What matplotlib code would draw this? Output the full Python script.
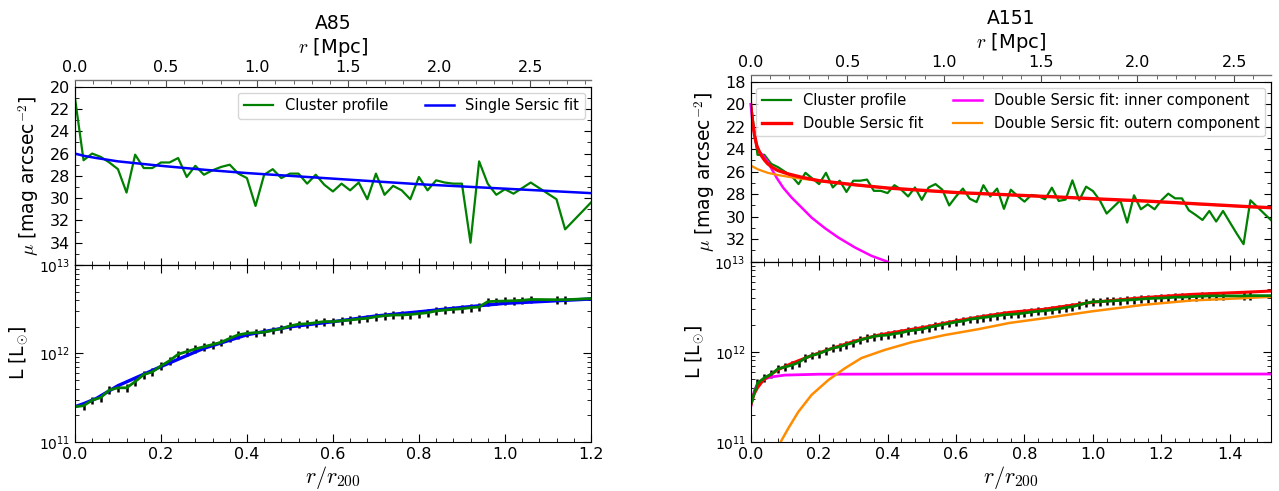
import numpy as np
import matplotlib
matplotlib.use("Agg")
import matplotlib.pyplot as plt
from matplotlib.ticker import AutoMinorLocator, MultipleLocator

matplotlib.rcParams.update({
    "font.family": "DejaVu Sans",
    "mathtext.fontset": "cm",
    "xtick.direction": "in",
    "ytick.direction": "in",
    "xtick.labelsize": 11.5,
    "ytick.labelsize": 11.5,
    "legend.fontsize": 10.5,
})

# ---------------- A85 ----------------
# r / r200 of the profile bins (1.08, 1.10, 1.16, 1.18 missing)
a85_r = [0.00, 0.02, 0.04, 0.06, 0.08, 0.10, 0.12, 0.14, 0.16, 0.18,
         0.20, 0.22, 0.24, 0.26, 0.28, 0.30, 0.32, 0.34, 0.36, 0.38,
         0.40, 0.42, 0.44, 0.46, 0.48, 0.50, 0.52, 0.54, 0.56, 0.58,
         0.60, 0.62, 0.64, 0.66, 0.68, 0.70, 0.72, 0.74, 0.76, 0.78,
         0.80, 0.82, 0.84, 0.86, 0.88, 0.90, 0.92, 0.94, 0.96, 0.98,
         1.00, 1.02, 1.04, 1.06, 1.12, 1.14, 1.20]
# surface brightness [mag arcsec^-2]
a85_mu = [21.0, 26.6, 26.0, 26.3, 26.8, 27.4, 29.5, 26.1, 27.3, 27.3,
          26.8, 26.8, 26.4, 28.1, 27.1, 27.9, 27.5, 27.2, 27.0, 27.8,
          28.2, 30.7, 27.9, 27.4, 28.2, 27.8, 27.8, 28.7, 27.9, 28.8,
          29.4, 28.7, 29.3, 28.6, 30.1, 27.8, 29.7, 28.9, 29.3, 30.1,
          28.1, 29.3, 28.4, 28.6, 28.7, 28.7, 34.0, 26.7, 28.7, 29.7,
          29.2, 29.6, 29.1, 28.6, 30.1, 32.8, 30.4]
# cumulative luminosity, log10 [Lsun]
a85_logL = [11.396, 11.407, 11.47, 11.50, 11.585, 11.61, 11.61, 11.68, 11.76, 11.79,
            11.857, 11.917, 11.99, 12.02, 12.05, 12.075, 12.10, 12.125, 12.17, 12.21,
            12.227, 12.234, 12.24, 12.26, 12.28, 12.31, 12.33, 12.335, 12.347, 12.36,
            12.358, 12.37, 12.377, 12.389, 12.397, 12.415, 12.426, 12.434, 12.434, 12.44,
            12.45, 12.46, 12.48, 12.49, 12.498, 12.505, 12.517, 12.525, 12.585, 12.59,
            12.592, 12.596, 12.60, 12.61, 12.607, 12.607, 12.62]
# single Sersic fit
a85_fit_r = [0.0, 0.02, 0.05, 0.1, 0.2, 0.3, 0.4, 0.5, 0.6, 0.7, 0.8, 0.9, 1.0, 1.1, 1.2]
a85_fit_mu = [26.0, 26.2, 26.4, 26.7, 27.1, 27.45, 27.75, 28.0, 28.25, 28.5,
              28.75, 28.95, 29.15, 29.35, 29.55]
a85_fit_logL = [11.396, 11.43, 11.49, 11.634, 11.85, 12.057, 12.21, 12.30, 12.358, 12.423,
                12.47, 12.52, 12.566, 12.59, 12.615]
a85_r200 = 2.36  # Mpc

# ---------------- A151 ----------------
a151_r = [round(0.02 * i, 2) for i in range(77)]
a151_mu = [19.8, 24.5, 24.5, 25.3, 25.6, 26.0, 26.4, 27.1, 26.1, 26.6,
           27.1, 26.1, 27.4, 26.8, 27.8, 26.8, 26.8, 26.7, 27.7, 27.7,
           27.9, 27.2, 27.6, 28.2, 27.4, 28.5, 27.4, 27.1, 27.6, 29.0,
           28.2, 27.5, 28.4, 28.7, 27.2, 28.2, 27.5, 29.3, 27.6, 28.16,
           28.66, 28.07, 28.16, 28.45, 27.42, 28.6, 28.48, 26.77, 28.54, 27.33,
           27.72, 28.54, 29.72, 29.13, 28.54, 30.52, 28.1, 29.34, 28.9, 29.34,
           28.54, 27.95, 28.37, 28.37, 29.43, 29.84, 30.29, 29.49, 30.43, 29.49,
           30.5, 31.5, 32.44, 28.54, 29.13, 29.72, 30.3]
a151_logL = [11.41, 11.65, 11.71, 11.75, 11.81, 11.83, 11.85, 11.88, 11.93, 11.96,
             11.98, 12.01, 12.04, 12.055, 12.08, 12.10, 12.13, 12.15, 12.17, 12.18,
             12.185, 12.20, 12.21, 12.23, 12.24, 12.25, 12.27, 12.285, 12.30, 12.315,
             12.33, 12.34, 12.36, 12.37, 12.38, 12.39, 12.40, 12.41, 12.415, 12.42,
             12.43, 12.44, 12.45, 12.455, 12.465, 12.475, 12.49, 12.50, 12.52, 12.54,
             12.555, 12.557, 12.561, 12.565, 12.57, 12.574, 12.578, 12.585, 12.59, 12.594,
             12.596, 12.60, 12.606, 12.606, 12.61, 12.614, 12.617, 12.62, 12.62, 12.62,
             12.62, 12.62, 12.62, 12.623, 12.623, 12.623, 12.623]
a151_err_idx = list(range(1, 70)) + [72, 73]
# double Sersic fit (total, inner, outer)
a151_fit_r = [0.0, 0.004, 0.008, 0.013, 0.018, 0.025, 0.032, 0.04, 0.05, 0.065,
              0.08, 0.11, 0.15, 0.2, 0.3, 0.4, 0.5, 0.6, 0.75, 0.9,
              1.0, 1.15, 1.3, 1.45, 1.52]
a151_fit_mu = [20.0, 21.2, 22.1, 23.0, 23.7, 24.2, 24.6, 24.95, 25.3, 25.65,
               25.9, 26.2, 26.5, 26.8, 27.15, 27.45, 27.65, 27.85, 28.05, 28.25,
               28.4, 28.6, 28.85, 29.1, 29.2]
a151_inner_r = [0.0, 0.004, 0.008, 0.013, 0.018, 0.025, 0.037, 0.05, 0.061, 0.076,
                0.095, 0.12, 0.149, 0.178, 0.217, 0.256, 0.305, 0.353, 0.40]
a151_inner_mu = [20.0, 21.2, 22.1, 23.0, 23.7, 24.2, 24.6, 25.1, 25.74, 26.54,
                 27.42, 28.31, 29.19, 30.08, 31.02, 31.85, 32.74, 33.48, 34.0]
a151_outer_r = [0.0, 0.022, 0.05, 0.08, 0.13, 0.2, 0.3, 0.4, 0.5, 0.6,
                0.75, 0.9, 1.0, 1.15, 1.3, 1.45, 1.52]
a151_outer_mu = [25.45, 25.8, 26.1, 26.3, 26.55, 26.82, 27.17, 27.47, 27.67, 27.87,
                 28.07, 28.27, 28.42, 28.62, 28.87, 29.12, 29.22]
a151_fit_Lr = [0.0, 0.01, 0.02, 0.037, 0.06, 0.08, 0.12, 0.18, 0.24, 0.306,
               0.374, 0.442, 0.52, 0.597, 0.675, 0.757, 0.854, 1.0, 1.146, 1.29,
               1.44, 1.52]
a151_fit_logL = [11.40, 11.53, 11.6, 11.685, 11.75, 11.80, 11.87, 11.96, 12.04, 12.12,
                 12.185, 12.23, 12.28, 12.34, 12.39, 12.437, 12.47, 12.55, 12.60, 12.637,
                 12.66, 12.674]
a151_inner_Lr = [0.0, 0.006, 0.013, 0.02, 0.027, 0.042, 0.061, 0.1, 0.2, 0.5, 1.0, 1.52]
a151_inner_logL = [11.38, 11.50, 11.59, 11.63, 11.667, 11.70, 11.72, 11.74, 11.75, 11.752,
                   11.752, 11.752]
a151_outer_Lr = [0.06, 0.075, 0.088, 0.11, 0.139, 0.178, 0.227, 0.275, 0.324, 0.392,
                 0.47, 0.567, 0.665, 0.757, 0.854, 1.0, 1.146, 1.29, 1.44, 1.52]
a151_outer_logL = [10.75, 10.88, 11.0, 11.148, 11.33, 11.52, 11.685, 11.815, 11.93, 12.02,
                   12.105, 12.185, 12.25, 12.32, 12.37, 12.45, 12.52, 12.57, 12.595, 12.61]
a151_r200 = 1.77  # Mpc

ERR_FRAC = 0.1


def style_top(ax, ylim, yticks):
    ax.set_ylim(*ylim)
    ax.set_yticks(yticks)
    ax.yaxis.set_minor_locator(MultipleLocator(1))
    ax.xaxis.set_minor_locator(AutoMinorLocator(5))
    ax.tick_params(which="both", top=False, right=True, labelbottom=False)
    ax.tick_params(which="major", length=5)
    ax.tick_params(which="minor", length=3)
    ax.set_ylabel(r"$\mu$ [mag arcsec$^{-2}$]", fontsize=13.5, labelpad=6)


def style_bottom(ax, xmax, xticks):
    ax.set_yscale("log")
    ax.set_ylim(1e11, 1e13)
    ax.set_xlim(0, xmax)
    ax.set_xticks(xticks)
    ax.xaxis.set_minor_locator(AutoMinorLocator(5))
    ax.tick_params(which="both", top=True, right=True)
    ax.tick_params(which="major", length=6)
    ax.tick_params(which="minor", length=3)
    ax.tick_params(axis="y", labelsize=10)
    ax.set_xlabel(r"$r/r_{200}$", fontsize=16, labelpad=2)
    ax.set_ylabel(r"L [L$_{\odot}$]", fontsize=13.5, labelpad=6)


def mpc_axis(ax, xmax, r200):
    top = ax.twiny()
    top.set_xlim(0, xmax * r200)
    top.set_xticks([0.0, 0.5, 1.0, 1.5, 2.0, 2.5])
    top.xaxis.set_minor_locator(AutoMinorLocator(5))
    top.spines["top"].set_position(("outward", 5))
    top.spines["top"].set_color("0.45")
    top.spines["top"].set_linewidth(1.0)
    top.tick_params(which="both", direction="in", labelsize=11.5, color="0.3")
    top.tick_params(which="major", length=5)
    top.tick_params(which="minor", length=3)
    top.set_xlabel(r"$r$ [Mpc]", fontsize=14, labelpad=5)
    return top


fig = plt.figure(figsize=(12.79, 4.91), dpi=100)

# ---- A85 ----
ax1 = fig.add_axes([0.0586, 0.4603, 0.4034, 0.3631])
ax2 = fig.add_axes([0.0586, 0.1004, 0.4034, 0.3599], sharex=ax1)
ax1.plot(a85_r, a85_mu, color="green", lw=1.6, label="Cluster profile")
ax1.plot(a85_fit_r, a85_fit_mu, color="blue", lw=1.8, label="Single Sersic fit")
ax1.invert_yaxis()
style_top(ax1, (36, 20), np.arange(20, 35, 2))
ax1.legend(loc="upper right", ncol=2, framealpha=0.8, borderaxespad=0.4,
           columnspacing=2.5)

L85 = 10 ** np.array(a85_logL)
ax2.errorbar(a85_r[1:-1], L85[1:-1], yerr=ERR_FRAC * L85[1:-1], fmt="none",
             ecolor="k", elinewidth=1.8)
ax2.plot(a85_fit_r, 10 ** np.array(a85_fit_logL), color="blue", lw=2.4)
ax2.plot(a85_r, L85, color="green", lw=2.0)
style_bottom(ax2, 1.2, [0.0, 0.2, 0.4, 0.6, 0.8, 1.0, 1.2])
t1 = mpc_axis(ax1, 1.2, a85_r200)
t1.set_title("A85", fontsize=13.5, pad=5)

# ---- A151 ----
ax3 = fig.add_axes([0.5869, 0.467, 0.4068, 0.3666])
ax4 = fig.add_axes([0.5869, 0.1004, 0.4068, 0.3666], sharex=ax3)
ax3.plot(a151_r, a151_mu, color="green", lw=1.6, label="Cluster profile")
ax3.plot(a151_fit_r, a151_fit_mu, color="red", lw=2.4, label="Double Sersic fit", zorder=4)
ax3.plot(a151_inner_r, a151_inner_mu, color="magenta", lw=1.8,
         label="Double Sersic fit: inner component", clip_on=False)
ax3.plot(a151_outer_r, a151_outer_mu, color="darkorange", lw=1.6,
         label="Double Sersic fit: outern component")
ax3.invert_yaxis()
style_top(ax3, (34, 18), np.arange(18, 33, 2))
ax3.legend(loc="upper left", ncol=2, framealpha=0.8, borderaxespad=0.4)

L151 = 10 ** np.array(a151_logL)
r151 = np.array(a151_r)
ax4.errorbar(r151[a151_err_idx], L151[a151_err_idx], yerr=ERR_FRAC * L151[a151_err_idx],
             fmt="none", ecolor="k", elinewidth=1.8)
ax4.plot(a151_inner_Lr, 10 ** np.array(a151_inner_logL), color="magenta", lw=2.0)
ax4.plot(a151_outer_Lr, 10 ** np.array(a151_outer_logL), color="darkorange", lw=1.8)
ax4.plot(a151_fit_Lr, 10 ** np.array(a151_fit_logL), color="red", lw=2.2)
ax4.plot(r151, L151, color="green", lw=2.0)
style_bottom(ax4, 1.52, [0.0, 0.2, 0.4, 0.6, 0.8, 1.0, 1.2, 1.4])
t3 = mpc_axis(ax3, 1.52, a151_r200)
t3.set_title("A151", fontsize=13.5, pad=5)

fig.savefig("out.png", dpi=100)
